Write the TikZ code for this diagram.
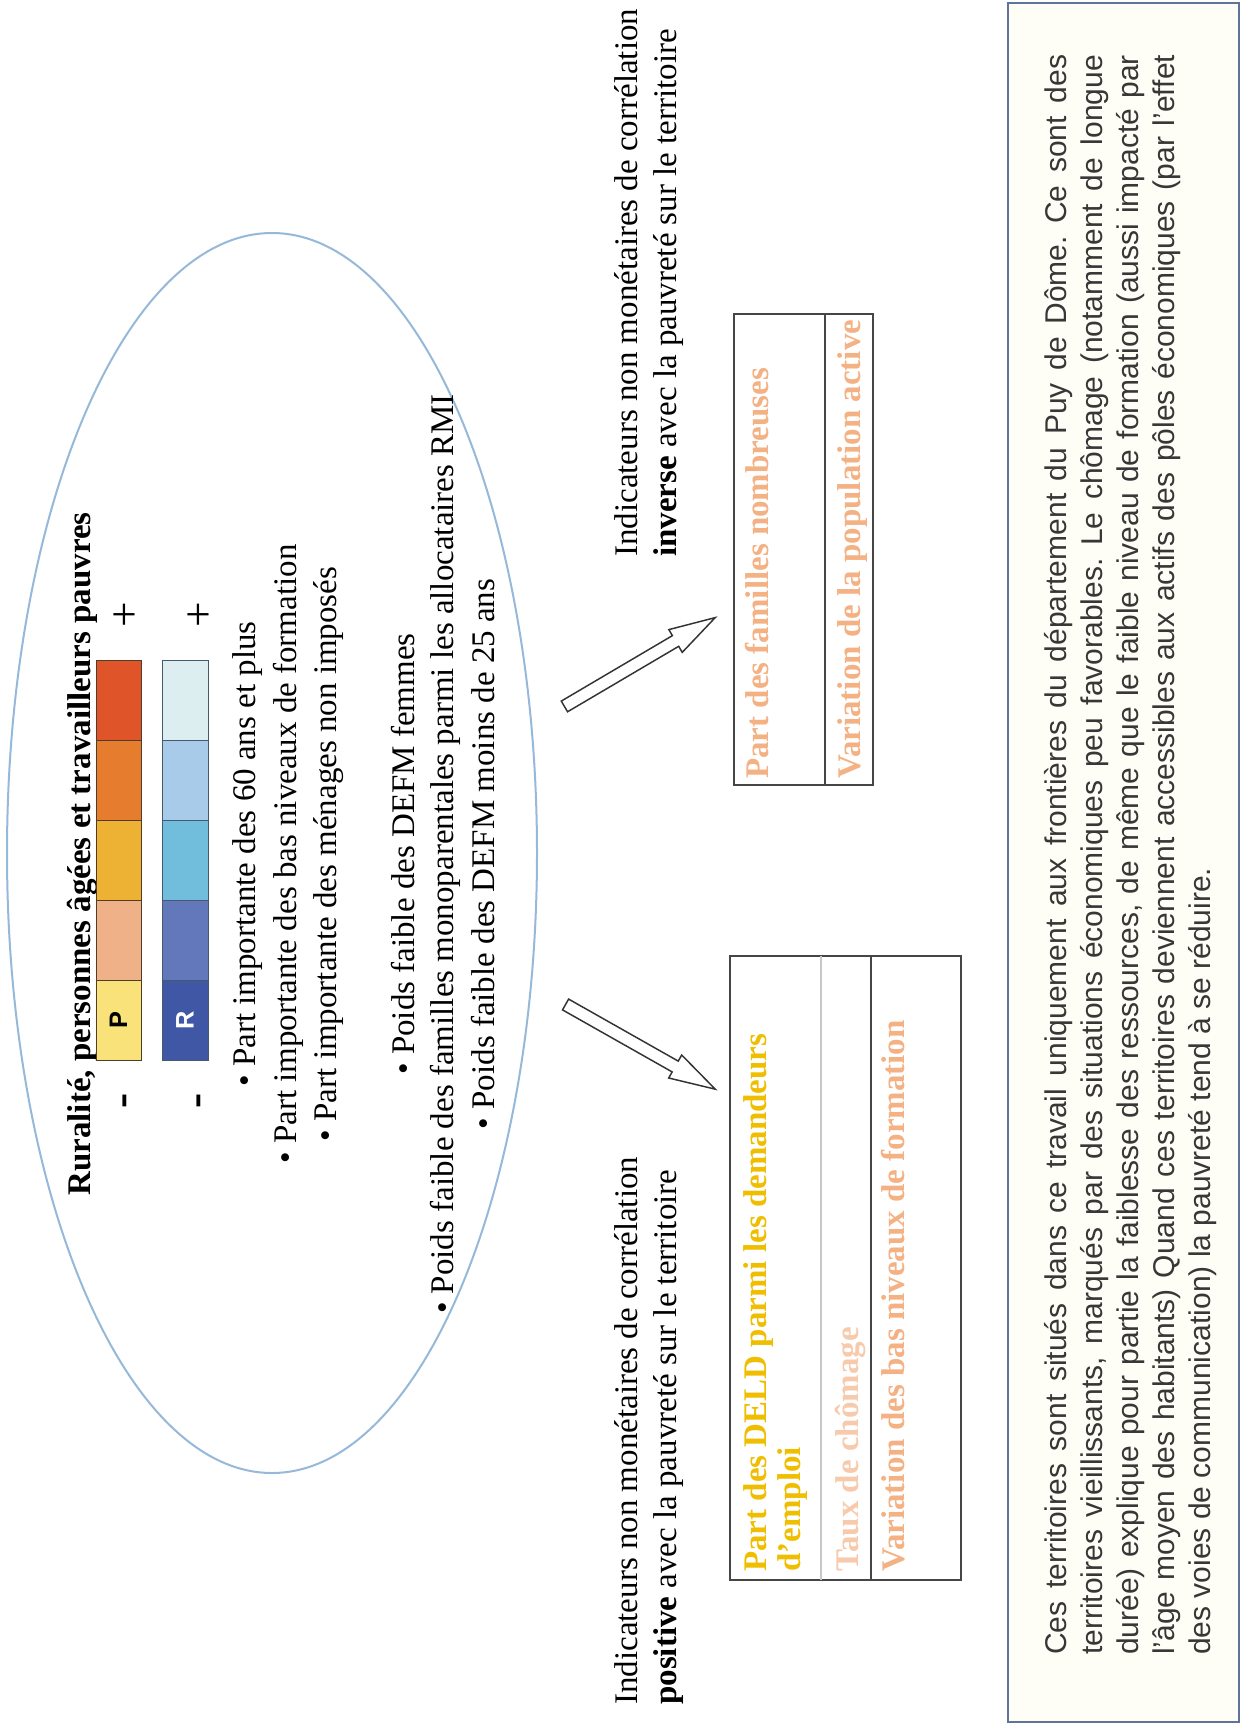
\documentclass[tikz,border=0pt]{standalone}
\usepackage{fontspec}
\setmainfont{Liberation Serif}
\setsansfont{Liberation Sans}
\usetikzlibrary{shapes.arrows,shapes.geometric}

\definecolor{ellblue}{RGB}{150,185,218}
\definecolor{pc1}{RGB}{250,226,122}
\definecolor{pc2}{RGB}{239,178,136}
\definecolor{pc3}{RGB}{237,177,52}
\definecolor{pc4}{RGB}{230,125,46}
\definecolor{pc5}{RGB}{224,84,42}
\definecolor{rc1}{RGB}{64,87,166}
\definecolor{rc2}{RGB}{98,120,186}
\definecolor{rc3}{RGB}{112,190,220}
\definecolor{rc4}{RGB}{168,203,234}
\definecolor{rc5}{RGB}{220,238,240}
\definecolor{pborder}{RGB}{80,60,40}
\definecolor{rborder}{RGB}{70,90,110}
\definecolor{gold}{RGB}{240,190,0}
\definecolor{peach}{RGB}{244,177,131}
\definecolor{lpeach}{RGB}{247,202,172}
\definecolor{boxline}{RGB}{95,115,155}
\definecolor{boxfill}{RGB}{255,254,246}
\definecolor{paratext}{RGB}{55,55,55}
\definecolor{tabline}{RGB}{70,70,70}
\definecolor{tabgray}{RGB}{200,200,200}

\begin{document}
\frenchspacing
\begin{tikzpicture}[x=0.75pt,y=-0.75pt,
  serif/.style={rotate=90,inner sep=0pt,font=\fontsize{24.75}{30}\selectfont},
  ellline/.style={serif,anchor=base},
  capline/.style={serif,anchor=base west},
  tabtext/.style={serif,anchor=base west,font=\fontsize{24.75}{30}\selectfont\bfseries},
  paraline/.style={rotate=90,inner sep=0pt,anchor=base west,text=paratext,font=\sffamily\fontsize{22.5}{27}\selectfont},
  sign/.style={rotate=90,inner sep=0pt,font=\fontsize{34}{34}\selectfont},
  barlab/.style={rotate=90,inner sep=0pt,font=\sffamily\bfseries\fontsize{19}{19}\selectfont},
  blockarrow/.style={single arrow, draw=black!80, fill=white, line width=1.1pt,
     inner xsep=0pt, inner ysep=4.1pt,
     single arrow head extend=5.25pt, single arrow tip angle=32},
]
\useasboundingbox (0,0) rectangle (1247,1724);
\fill[white] (0,0) rectangle (1247,1724);

% ellipse
\node[ellipse, draw=ellblue, line width=1.5pt, minimum width=397.5pt, minimum height=930pt, inner sep=0pt] (ell) at (272,853) {};

% title
\node[ellline] (title) at (90,854) {\bfseries Ruralité, personnes âgées et travailleurs pauvres};

% colour bars
\foreach \c [count=\i from 0] in {pc1,pc2,pc3,pc4,pc5}
  \filldraw[fill=\c, draw=pborder, line width=0.6pt] (96,{1060-80*\i}) rectangle (141,{980-80*\i});
\foreach \c [count=\i from 0] in {rc1,rc2,rc3,rc4,rc5}
  \filldraw[fill=\c, draw=rborder, line width=0.6pt] (162,{1060-80*\i}) rectangle (208,{980-80*\i});
\node[barlab] (plab) at (118.5,1020) {P};
\node[barlab, text=white] (rlab) at (185,1020) {R};

\node[sign] (pminus) at (129,1101) {\textbf{-}};
\node[sign] (rminus) at (203,1101) {\textbf{-}};
\node[sign] (pplus) at (127,615) {+};
\node[sign] (rplus) at (201,615) {+};

% bullet lines
\node[ellline] (l1) at (255,854) {• Part importante des 60 ans et plus};
\node[ellline] (l2) at (296,854) {• Part importante des bas niveaux de formation};
\node[ellline] (l3) at (336,854) {• Part importante des ménages non imposés};
\node[ellline] (l4) at (414,854) {• Poids faible des DEFM femmes};
\node[ellline] (l5) at (453,854) {• Poids faible des familles monoparentales parmi les allocataires RMI};
\node[ellline] (l6) at (494,854) {• Poids faible des DEFM moins de 25 ans};

% captions
\node[capline] (capinv1) at (637,557) {Indicateurs non monétaires de corrélation};
\node[capline] (capinv2) at (676,557) {\textbf{inverse} avec la pauvreté sur le territoire};
\node[capline] (cappos1) at (637,1705) {Indicateurs non monétaires de corrélation};
\node[capline] (cappos2) at (676,1705) {\textbf{positive} avec la pauvreté sur le territoire};

% arrows
\node[blockarrow, minimum height=131.25pt, rotate=30.5] (arrowUp) at (630.5,667.5) {};
\node[blockarrow, minimum height=129pt, rotate=-29.5] (arrowDown) at (631,1041.5) {};

% inverse table
\draw[tabline, line width=1.4pt] (734,314) rectangle (873,785);
\draw[tabline, line width=1.4pt] (825,314) -- (825,785);
\node[tabtext, text=peach] (inv1) at (768,779) {Part des familles nombreuses};
\node[tabtext, text=peach] (inv2) at (860,779) {Variation de la population active};

% positive table
\draw[tabline, line width=1.4pt] (730,956) rectangle (961,1580);
\draw[tabgray, line width=1.4pt] (821,956) -- (821,1580);
\draw[tabline, line width=1.4pt] (871,956) -- (871,1580);
\node[tabtext, text=gold] (pos1a) at (766,1572) {Part des DELD parmi les demandeurs};
\node[tabtext, text=gold] (pos1b) at (800,1572) {d'emploi};
\node[tabtext, text=lpeach] (pos2) at (858,1572) {Taux de chômage};
\node[tabtext, text=peach] (pos3) at (904,1572) {Variation des bas niveaux de formation};

% text box
\node[draw=boxline, fill=boxfill, line width=1.5pt, minimum width=173.25pt, minimum height=1289.25pt, inner sep=0pt, anchor=north west] (textbox) at (1007,2) {};
\node[paraline] (p1) at (1066,1655) {\makebox[1200pt][s]{Ces territoires sont situés dans ce travail uniquement aux frontières du département du Puy de Dôme. Ce sont des}};
\node[paraline] (p2) at (1102.2,1655) {\makebox[1200pt][s]{territoires vieillissants, marqués par des situations économiques peu favorables. Le chômage (notamment de longue}};
\node[paraline] (p3) at (1138.4,1655) {\makebox[1200pt][s]{durée) explique pour partie la faiblesse des ressources, de même que le faible niveau de formation (aussi impacté par}};
\node[paraline] (p4) at (1174.6,1655) {\makebox[1200pt][s]{l'âge moyen des habitants) Quand ces territoires deviennent accessibles aux actifs des pôles économiques (par l'effet}};
\node[paraline] (p5) at (1210.8,1655) {des voies de communication) la pauvreté tend à se réduire.};
\end{tikzpicture}
\end{document}
